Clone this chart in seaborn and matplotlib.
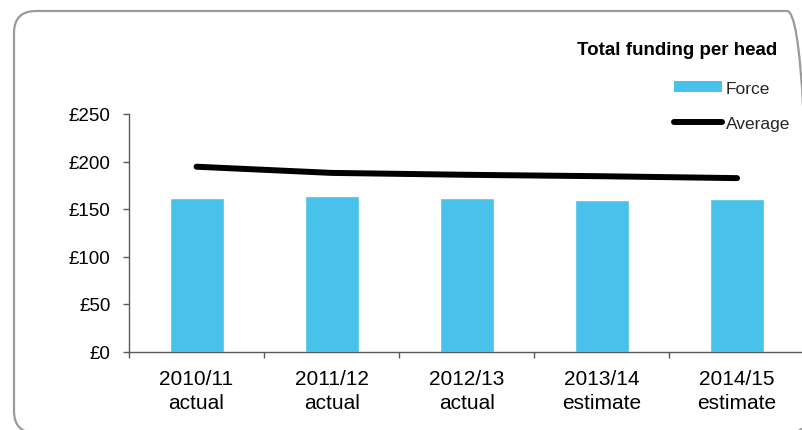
import numpy as np
import pandas as pd
import matplotlib
matplotlib.use("Agg")
import matplotlib.pyplot as plt
import seaborn as sns
from matplotlib.patches import FancyBboxPatch, Patch
from matplotlib.lines import Line2D
from matplotlib.transforms import IdentityTransform
from matplotlib.ticker import FuncFormatter, FixedLocator

# ---- data ----
categories = ["2010/11\nactual", "2011/12\nactual", "2012/13\nactual",
              "2013/14\nestimate", "2014/15\nestimate"]
force = [162, 164, 162, 160, 161]
average = [194.5, 188, 186, 184.5, 182.5]
yticks = [0, 50, 100, 150, 200, 250]
title = "Total funding per head"

sns.set_theme(style="white")
plt.rcParams["font.family"] = ["Liberation Sans", "DejaVu Sans"]

W, H = 803, 431
fig = plt.figure(figsize=(W / 100, H / 100), dpi=100)
fig.patch.set_facecolor("white")

# axes placed in pixel terms
left, right, bottom, top = 129, 804.6, 352.5, 115
ax = fig.add_axes([left / W, 1 - bottom / H, (right - left) / W, (bottom - top) / H])

df = pd.DataFrame({"cat": categories, "force": force, "avg": average})
sns.barplot(data=df, x="cat", y="force", color="#48C1EB", width=0.4,
            saturation=1, ax=ax, zorder=2)
sns.lineplot(x=np.arange(len(categories)), y=df["avg"], color="black",
             linewidth=4.3, ax=ax, zorder=3, solid_capstyle="round")

ax.set_xlim(-0.5, len(categories) - 0.5)
ax.set_ylim(0, 250)
ax.set_yticks(yticks)
ax.yaxis.set_major_formatter(FuncFormatter(lambda v, p: f"£{int(v)}"))
ax.set_xlabel("")
ax.set_ylabel("")

spine_col = "#595959"
for s in ["top", "right"]:
    ax.spines[s].set_visible(False)
for s in ["left", "bottom"]:
    ax.spines[s].set_color(spine_col)
    ax.spines[s].set_linewidth(1.0)

ax.tick_params(axis="y", which="major", left=True, length=4.3, width=1,
               color=spine_col, pad=9, labelsize=13.5, labelcolor="black")
ax.tick_params(axis="x", which="major", bottom=True, length=0, pad=12.5,
               labelsize=15, labelcolor="black")
ax.xaxis.set_minor_locator(FixedLocator(np.arange(-0.5, len(categories), 1.0)))
ax.tick_params(axis="x", which="minor", bottom=True, length=4.3, width=1,
               color=spine_col)
for lab in ax.get_xticklabels():
    lab.set_linespacing(1.35)

# legend
handles = [Patch(facecolor="#48C1EB", edgecolor="none"),
           Line2D([0], [0], color="black", lw=4.3, solid_capstyle="round")]
leg = fig.legend(handles, ["Force", "Average"], loc="upper left",
                 bbox_to_anchor=(674 / W, 1 - 82 / H), frameon=False,
                 fontsize=12.5, handlelength=2.75, handleheight=0.6,
                 handletextpad=0.25, labelspacing=1.15, borderpad=0,
                 borderaxespad=0)

fig.text(777 / W, 1 - 55 / H, title, ha="right", va="baseline",
         fontsize=13.5, fontweight="bold", color="black")

# rounded border
border = FancyBboxPatch((14, -3), 795, H - 12 + 3,
                        boxstyle="round,pad=0,rounding_size=22",
                        transform=IdentityTransform(), facecolor="none",
                        edgecolor="#9a9a9a", linewidth=1.6, zorder=10)
fig.patches.append(border)

fig.savefig("out.png", dpi=100)
